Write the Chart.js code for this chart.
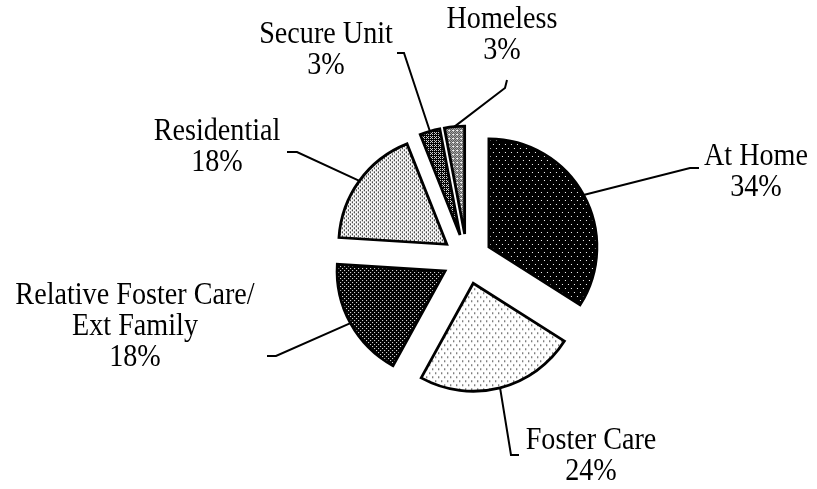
<!DOCTYPE html>
<html>
<head>
<meta charset="utf-8">
<script src="https://cdn.jsdelivr.net/npm/chart.js@4.4.1/dist/chart.umd.min.js"></script>
<style>
  html, body { margin: 0; padding: 0; background: #fff; }
  #wrap { width: 817px; height: 489px; }
</style>
</head>
<body>
<div id="wrap"><canvas id="placementChart" width="817" height="489"></canvas></div>
<script>
// placement categories, clockwise from 12 o'clock
var categories = ['At Home', 'Foster Care', 'Relative Foster Care/\nExt Family', 'Residential', 'Secure Unit', 'Homeless'];
var percents = [34, 24, 18, 18, 3, 3];

// label text centres and leader line bends (layout only)
var labelPos = [[756, 157], [591, 441], [135, 296], [217, 132], [326, 35], [502, 20]];
var leaderBends = [
    [[690, 168], [699, 168]],
    [[511, 455], [519, 455]],
    [[276, 356], [267, 356]],
    [[297, 152], [287, 152]],
    [[404, 53], [397, 53]],
    [[505, 88], [507, 80]]
];
var explode = 25;

function makePattern(bg, fg, w, h, dots) {
    var c = document.createElement('canvas');
    c.width = w; c.height = h;
    var g = c.getContext('2d');
    g.fillStyle = bg;
    g.fillRect(0, 0, w, h);
    g.fillStyle = fg;
    dots.forEach(function(d) { g.fillRect(d[0], d[1], d[2] || 1, d[3] || 1); });
    return g.createPattern(c, 'repeat');
}

var fills = [
    makePattern('#000', '#fff', 6, 8, [[0, 0], [3, 4]]),
    makePattern('#fff', '#555', 6, 8, [[0, 0, 1, 2], [3, 4, 1, 2]]),
    makePattern('#000', '#fff', 4, 4, [[0, 0], [2, 2]]),
    makePattern('#fff', '#222', 4, 4, [[0, 0, 1, 2], [2, 2, 1, 2]]),
    makePattern('#000', '#ddd', 4, 4, [[1, 0], [3, 0], [2, 1], [1, 2], [3, 2]]),
    makePattern('#fff', '#000', 4, 4, [[0, 0], [2, 0], [1, 1], [3, 1], [0, 2], [2, 2], [1, 3]])
];

var explodePlugin = {
    id: 'explode',
    beforeDatasetDraw: function(chart, args) {
        var ctx = chart.ctx;
        args.meta.data.forEach(function(arc) {
            var mid = (arc.startAngle + arc.endAngle) / 2;
            ctx.save();
            ctx.translate(Math.cos(mid) * explode, Math.sin(mid) * explode);
            arc.draw(ctx);
            ctx.restore();
        });
        return false;
    }
};

var labelPlugin = {
    id: 'pieLabels',
    afterDatasetsDraw: function(chart) {
        var ctx = chart.ctx;
        var arcs = chart.getDatasetMeta(0).data;
        ctx.save();
        ctx.strokeStyle = '#000';
        ctx.lineWidth = 2;
        ctx.lineJoin = 'miter';
        arcs.forEach(function(arc, i) {
            var mid = (arc.startAngle + arc.endAngle) / 2;
            var r = arc.outerRadius + explode;
            var sx = arc.x + Math.cos(mid) * r;
            var sy = arc.y + Math.sin(mid) * r;
            ctx.beginPath();
            ctx.moveTo(sx, sy);
            leaderBends[i].forEach(function(p) { ctx.lineTo(p[0], p[1]); });
            ctx.stroke();
        });
        ctx.fillStyle = '#000';
        ctx.font = '32px "Liberation Serif"';
        ctx.textAlign = 'center';
        ctx.textBaseline = 'middle';
        categories.forEach(function(cat, i) {
            var lines = cat.split('\n').concat([percents[i] + '%']);
            lines.forEach(function(line, j) {
                ctx.save();
                ctx.translate(labelPos[i][0], labelPos[i][1] + j * 31);
                ctx.scale(0.88, 1);
                ctx.fillText(line, 0, 0);
                ctx.restore();
            });
        });
        ctx.restore();
    }
};

var ctx = document.getElementById('placementChart').getContext('2d');
var placementChart = new Chart(ctx, {
    type: 'pie',
    data: {
        labels: categories,
        datasets: [{
            data: percents,
            backgroundColor: fills,
            borderColor: '#000',
            borderWidth: 2.8,
            borderJoinStyle: 'miter',
            radius: 108
        }]
    },
    options: {
        responsive: false,
        animation: false,
        layout: { padding: { left: 117, right: 0, top: 29, bottom: 0 } },
        plugins: {
            legend: { display: false },
            tooltip: { enabled: false }
        }
    },
    plugins: [explodePlugin, labelPlugin]
});
</script>
</body>
</html>
